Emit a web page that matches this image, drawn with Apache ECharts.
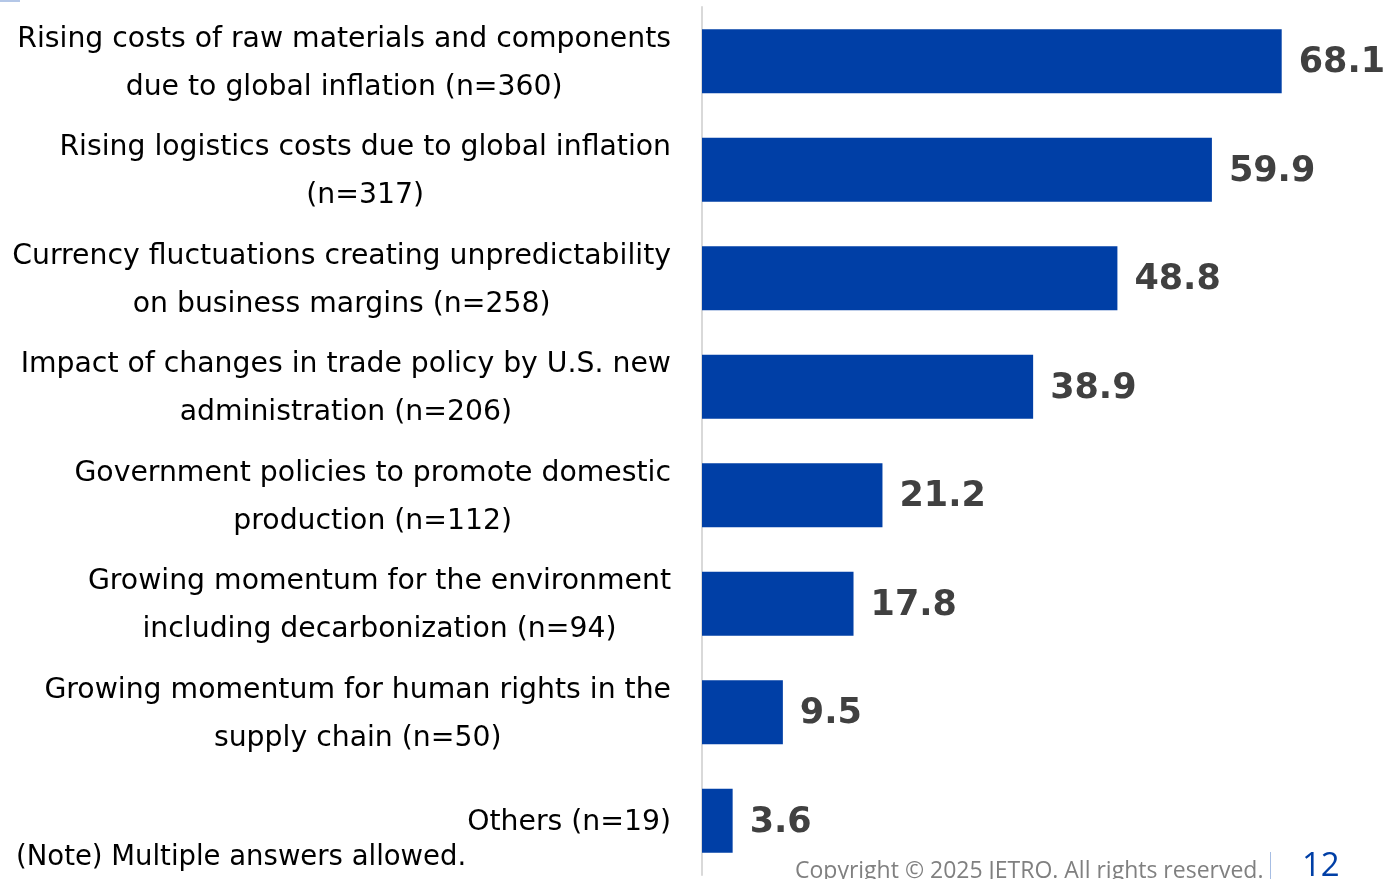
<!DOCTYPE html>
<html>
<head>
<meta charset="utf-8">
<script src="https://cdn.jsdelivr.net/npm/echarts@6/dist/echarts.min.js"></script>
<style>
  html, body { margin: 0; padding: 0; background: #fff; }
  #chart { width: 1383px; height: 879px; }
</style>
</head>
<body>
<div id="chart"></div>
<script>
// Survey: factors affecting business (share of respondents, %)
const categories = [
  'Rising costs of raw materials and components\ndue to global inflation (n=360)',
  'Rising logistics costs due to global inflation\n(n=317)',
  'Currency fluctuations creating unpredictability\non business margins (n=258)',
  'Impact of changes in trade policy by U.S. new\nadministration (n=206)',
  'Government policies to promote domestic\nproduction (n=112)',
  'Growing momentum for the environment\nincluding decarbonization (n=94)',
  'Growing momentum for human rights in the\nsupply chain (n=50)',
  'Others (n=19)'
];
const shares = [68.1, 59.9, 48.8, 38.9, 21.2, 17.8, 9.5, 3.6];
const noteText = '(Note) Multiple answers allowed.';
const copyrightText = 'Copyright \u00a9 2025 JETRO. All rights reserved.';
const pageNumber = '12';

const BAR_BLUE = '#003FA6';
const LABEL_FONT = '"DejaVu Sans", Verdana, sans-serif';

const chart = echarts.init(document.getElementById('chart'), null, { renderer: 'canvas' });

chart.setOption({
  animation: false,
  backgroundColor: '#ffffff',
  grid: { left: 702, top: 7, width: 687, height: 868, containLabel: false },
  xAxis: {
    type: 'value',
    min: 0,
    max: 80,
    show: false
  },
  yAxis: {
    type: 'category',
    data: categories,
    inverse: true,
    axisLine: { show: true, lineStyle: { color: '#d9d9d9', width: 2 } },
    axisTick: { show: false },
    splitLine: { show: false },
    axisLabel: {
      margin: 31,
      align: 'right',
      padding: [4, 0, 0, 0],
      formatter: function (value) {
        return value.split('\n').map(function (line) { return '{c|' + line + '}'; }).join('\n');
      },
      rich: {
        c: {
          align: 'center',
          fontFamily: LABEL_FONT,
          fontSize: 28.3,
          lineHeight: 48,
          color: '#000000'
        }
      }
    }
  },
  series: [{
    type: 'bar',
    data: shares,
    barWidth: 64,
    itemStyle: { color: BAR_BLUE },
    label: {
      show: true,
      position: 'right',
      distance: 17,
      offset: [0, 2],
      fontFamily: LABEL_FONT,
      fontWeight: 'bold',
      fontSize: 35,
      color: '#404040',
      formatter: function (p) { return p.value.toFixed(1); }
    }
  }],
  graphic: [
    {
      type: 'rect',
      left: 0, top: 0,
      shape: { width: 20, height: 2 },
      style: { fill: '#b4c7e7' }
    },
    {
      type: 'text',
      left: 16, top: 844,
      style: { text: noteText, font: '27.5px ' + LABEL_FONT, fill: '#000000' }
    },
    {
      type: 'text',
      left: 795, top: 860,
      style: { text: copyrightText, font: '23px "Open Sans", "Noto Sans", sans-serif', fill: '#808080' }
    },
    {
      type: 'rect',
      left: 1270, top: 852,
      shape: { width: 1, height: 27 },
      style: { fill: '#a6bde3' }
    },
    {
      type: 'text',
      left: 1302, top: 850,
      style: { text: pageNumber, font: '33px "Open Sans", "Noto Sans", sans-serif', fill: BAR_BLUE }
    }
  ]
});
</script>
</body>
</html>
